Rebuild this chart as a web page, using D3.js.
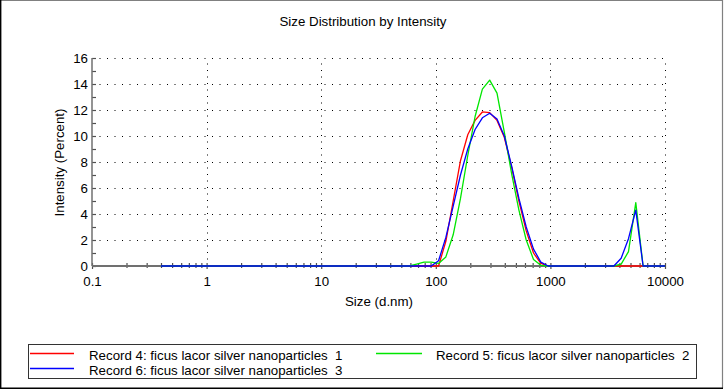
<!DOCTYPE html>
<html><head><meta charset="utf-8">
<script src="https://cdn.jsdelivr.net/npm/d3@7/dist/d3.min.js"></script>
<style>
html,body{margin:0;padding:0;background:#fff;}
text{font-family:"Liberation Sans",Arial,sans-serif;fill:#000;}
</style></head>
<body>
<svg id="chart" width="727" height="391"></svg>
<script>
// ---- data ----
const sizes = [0.4,0.4632,0.5365,0.6213,0.7195,0.8332,0.9649,1.117,1.294,1.499,
  1.736,2.010,2.328,2.696,3.122,3.615,4.187,4.849,5.615,6.503,
  7.531,8.721,10.10,11.70,13.54,15.69,18.17,21.04,24.36,28.21,
  32.67,37.84,43.82,50.75,58.77,68.06,78.82,91.28,105.7,122.4,
  141.8,164.2,190.1,220.2,255.0,295.3,342.0,396.1,458.7,531.2,
  615.1,712.4,825.0,955.4,1106,1281,1484,1718,1990,2305,
  2669,3091,3580,4145,4801,5560,6439,7456,8635,10000];
const record4 = [0,0,0,0,0,0,0,0,0,0,
  0,0,0,0,0,0,0,0,0,0,
  0,0,0,0,0,0,0,0,0,0,
  0,0,0,0,0,0,0,0,0,1.9,
  5.0,8.1,10.1,11.2,11.85,11.8,11.2,9.9,7.6,5.0,
  2.7,1.0,0.2,0,0,0,0,0,0,0,
  0,0,0,0,0,0,0,0,0,0];
const record5 = [0,0,0,0,0,0,0,0,0,0,
  0,0,0,0,0,0,0,0,0,0,
  0,0,0,0,0,0,0,0,0,0,
  0,0,0,0,0,0.15,0.3,0.3,0.2,0.7,
  2.4,5.2,8.5,11.5,13.6,14.3,13.3,10.3,7.1,4.3,
  2.0,0.5,0.05,0,0,0,0,0,0,0,
  0,0,0,0.15,1.1,4.87,0,0,0,0];
const record6 = [0,0,0,0,0,0,0,0,0,0,
  0,0,0,0,0,0,0,0,0,0,
  0,0,0,0,0,0,0,0,0,0,
  0,0,0,0,0,0,0,0,0.4,2.2,
  4.6,7.0,9.0,10.5,11.4,11.75,11.3,10.0,7.7,5.2,
  3.0,1.3,0.3,0,0,0,0,0,0,0,
  0,0,0,0.6,2.1,4.3,0,0,0,0];
const seriesNames = ["Record 4: ficus lacor silver nanoparticles  1",
  "Record 5: ficus lacor silver nanoparticles  2",
  "Record 6: ficus lacor silver nanoparticles  3"];
const seriesColors = ["#ff0000","#00e600","#0000ff"];
const xTicks = [0.1,1,10,100,1000,10000];
const xTickLabels = ["0.1","1","10","100","1000","10000"];
const yTicks = [0,2,4,6,8,10,12,14,16];
const yMinorTicks = [1,3,5,7,9,11,13,15];
const titleText = "Size Distribution by Intensity";
const xTitle = "Size (d.nm)";
const yTitle = "Intensity (Percent)";

// ---- layout ----
const svg = d3.select("#chart");
const L = 92, R = 665, T = 58, B = 266;
const x = d3.scaleLog().domain([0.1,10000]).range([L,R]);
const y = d3.scaleLinear().domain([0,16]).range([B,T]);
const FS = "13.3px";

// frame
svg.append("line").attr("x1",0).attr("y1",0.5).attr("x2",723).attr("y2",0.5).attr("stroke","#808080").attr("stroke-width",1);
svg.append("line").attr("x1",722.5).attr("y1",0).attr("x2",722.5).attr("y2",388).attr("stroke","#808080").attr("stroke-width",1.2);
svg.append("line").attr("x1",0.7).attr("y1",0).attr("x2",0.7).attr("y2",389).attr("stroke","#000").attr("stroke-width",1.4);
svg.append("line").attr("x1",0).attr("y1",388.3).attr("x2",723).attr("y2",388.3).attr("stroke","#000").attr("stroke-width",1.4);

// title
svg.append("text").attr("x",363).attr("y",25.5).attr("text-anchor","middle").style("font-size",FS).text(titleText);

// grid
const xMinor = [];
for (let e=-1;e<4;e++) for (let m=2;m<=9;m++) xMinor.push(m*Math.pow(10,e));
svg.append("g").selectAll("line").data(yTicks.slice(1)).join("line")
  .attr("x1",L).attr("x2",R).attr("y1",d=>Math.round(y(d))+0.5).attr("y2",d=>Math.round(y(d))+0.5)
  .attr("stroke","#000").attr("stroke-width",1).attr("stroke-dasharray","1,6.5");
svg.append("g").selectAll("line").data(xTicks.slice(1)).join("line")
  .attr("x1",d=>Math.round(x(d))+0.5).attr("x2",d=>Math.round(x(d))+0.5).attr("y1",B).attr("y2",T)
  .attr("stroke","#000").attr("stroke-width",1).attr("stroke-dasharray","1,5.5");

// axes
const xAxis = svg.append("g").attr("transform",`translate(0,${B})`)
  .call(d3.axisBottom(x).tickValues(xTicks).tickFormat((d,i)=>xTickLabels[i]).tickSize(3).tickPadding(8));
const xAxisMinor = svg.append("g").attr("transform",`translate(0,${B})`)
  .call(d3.axisBottom(x).tickValues(xMinor).tickFormat("").tickSize(2));
[xAxis,xAxisMinor].forEach(g=>{
  g.select(".domain").remove();
  g.selectAll(".tick line").attr("y1",-3).attr("stroke","#505050").attr("stroke-width",1.2);
});
xAxis.selectAll(".tick text").style("font-size",FS).style("font-family","Liberation Sans, Arial, sans-serif").attr("fill","#000");

const yAxis = svg.append("g").attr("transform",`translate(${L},0)`)
  .call(d3.axisLeft(y).tickValues(yTicks).tickSize(3).tickPadding(1));
const yAxisMinor = svg.append("g").attr("transform",`translate(${L},0)`)
  .call(d3.axisLeft(y).tickValues(yMinorTicks).tickFormat("").tickSize(2));
[yAxis,yAxisMinor].forEach(g=>{
  g.select(".domain").remove();
  g.selectAll(".tick line").attr("x2",4).attr("stroke","#505050").attr("stroke-width",1.2);
});
yAxis.selectAll(".tick text").style("font-size",FS).style("font-family","Liberation Sans, Arial, sans-serif").attr("fill","#000");

// axis lines
svg.append("line").attr("x1",L).attr("x2",L).attr("y1",T).attr("y2",B).attr("stroke","#707070").attr("stroke-width",1.5);
svg.append("line").attr("x1",L).attr("x2",R).attr("y1",B).attr("y2",B).attr("stroke","#707070").attr("stroke-width",2);

// axis titles
svg.append("text").attr("x",379).attr("y",306).attr("text-anchor","middle").style("font-size",FS).text(xTitle);
svg.append("text").attr("transform","translate(63.5,162.5) rotate(-90)").attr("text-anchor","middle").style("font-size",FS).text(yTitle);

// series
const line = d3.line().x((d,i)=>x(sizes[i])).y(d=>y(d));
[record4,record5,record6].forEach((s,k)=>{
  svg.append("path").datum(s).attr("d",line).attr("fill","none")
    .attr("stroke",seriesColors[k]).attr("stroke-width",1.3).attr("stroke-linejoin","round");
});

// legend
svg.append("rect").attr("x",28.5).attr("y",344.5).attr("width",668).attr("height",34)
  .attr("fill","#fff").attr("stroke","#333").attr("stroke-width",1);
const legPos = [[30,74,89,353.5],[376,422,436,353.5],[30,74,89,368.5]];
seriesNames.forEach((n,k)=>{
  const p = legPos[k];
  svg.append("line").attr("x1",p[0]).attr("x2",p[1]).attr("y1",p[3]).attr("y2",p[3])
    .attr("stroke",seriesColors[k]).attr("stroke-width",1.3);
  svg.append("text").attr("x",p[2]).attr("y",p[3]+6).style("font-size",FS).style("white-space","pre")
    .attr("xml:space","preserve").text(n);
});
</script>
</body></html>
